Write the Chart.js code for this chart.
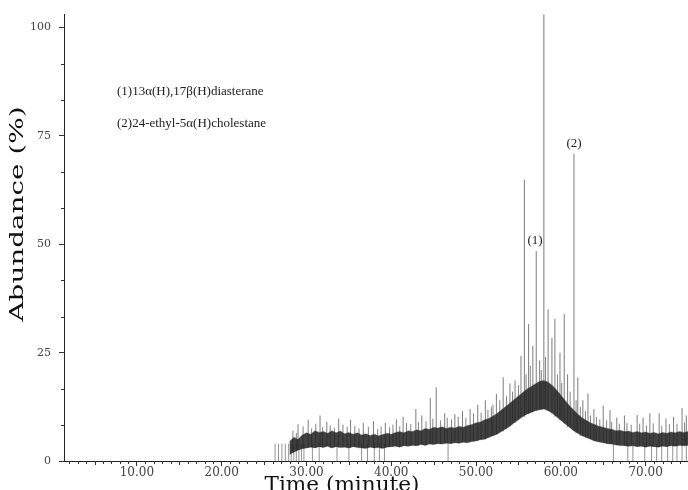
<!DOCTYPE html>
<html>
<head>
<meta charset="utf-8">
<script src="https://cdn.jsdelivr.net/npm/chart.js@4.4.1/dist/chart.umd.min.js"></script>
<style>
  html, body { margin: 0; padding: 0; background: #fff; }
  #wrap { width: 688px; height: 490px; }
</style>
</head>
<body>
<div id="wrap"><canvas id="chart" width="688" height="490"></canvas></div>
<script>
// axis ticks
const xTickValues = [10, 20, 30, 40, 50, 60, 70];
const yTickValues = [0, 25, 50, 75, 100];

// noisy baseline band (min / max of the trace)
const bandTime = [28.0, 28.5, 29.0, 29.5, 30.0, 30.5, 31.0, 31.5, 32.0, 32.5, 33.0, 33.5, 34.0, 34.5, 35.0, 35.5,
  36.0, 36.5, 37.0, 37.5, 38.0, 38.5, 39.0, 39.5, 40.0, 40.5, 41.0, 41.5, 42.0, 42.5, 43.0, 43.5,
  44.0, 44.5, 45.0, 45.5, 46.0, 46.5, 47.0, 47.5, 48.0, 48.5, 49.0, 49.5, 50.0, 50.5, 51.0, 51.5,
  52.0, 52.5, 53.0, 53.5, 54.0, 54.5, 55.0, 55.5, 56.0, 56.5, 57.0, 57.5, 58.0, 58.5, 59.0, 59.5,
  60.0, 60.5, 61.0, 61.5, 62.0, 62.5, 63.0, 63.5, 64.0, 64.5, 65.0, 65.5, 66.0, 66.5, 67.0, 67.5,
  68.0, 68.5, 69.0, 69.5, 70.0, 70.5, 71.0, 71.5, 72.0, 72.5, 73.0, 73.5, 74.0, 74.5, 75.0];
const bandLow = [1.5, 2.0, 2.5, 2.8, 3.0, 3.2, 3.0, 3.3, 3.1, 3.4, 3.0, 3.3, 3.1, 3.2, 3.0, 3.3,
  3.1, 3.0, 2.9, 3.2, 3.0, 3.1, 2.9, 3.2, 3.3, 3.4, 3.2, 3.5, 3.4, 3.6, 3.5, 3.8,
  3.6, 3.9, 3.8, 4.0, 3.9, 4.1, 4.0, 4.2, 4.1, 4.3, 4.2, 4.5, 4.6, 4.9, 5.0, 5.4,
  5.8, 6.2, 6.8, 7.4, 8.0, 8.8, 9.5, 10.2, 10.8, 11.2, 11.6, 11.8, 12.0, 11.6, 11.0, 10.2,
  9.4, 8.6, 7.8, 7.0, 6.4, 5.8, 5.4, 5.0, 4.6, 4.4, 4.2, 4.0, 3.9, 3.7, 3.6, 3.5,
  3.4, 3.5, 3.3, 3.4, 3.2, 3.4, 3.3, 3.2, 3.4, 3.3, 3.5, 3.4, 3.6, 3.5, 3.6];
const bandHigh = [4.5, 5.5, 5.0, 6.0, 6.5, 6.2, 7.0, 6.6, 6.8, 6.4, 7.0, 6.5, 6.9, 6.3, 6.6, 6.2,
  6.5, 6.0, 6.3, 5.9, 6.2, 5.8, 6.1, 6.4, 6.2, 6.6, 6.8, 6.5, 7.0, 6.8, 7.2, 7.0,
  7.5, 7.3, 7.8, 7.6, 7.9, 7.5, 7.8, 7.6, 8.0, 7.8, 8.2, 8.4, 8.8, 9.0, 9.5, 9.8,
  10.4, 11.0, 11.8, 12.6, 13.4, 14.2, 15.0, 15.8, 16.6, 17.2, 17.8, 18.4, 18.6, 18.2, 17.4, 16.4,
  15.2, 14.0, 12.8, 11.8, 10.8, 10.0, 9.4, 8.8, 8.4, 8.0, 7.8, 7.5, 7.3, 7.0, 7.1, 6.8,
  6.9, 6.6, 6.8, 6.5, 6.7, 6.4, 6.6, 6.3, 6.6, 6.4, 6.7, 6.5, 6.8, 6.6, 6.8];

// single peaks rising above the band
const spikeTime = [29.0, 30.2, 31.6, 32.4, 33.8, 35.2, 36.7, 37.9, 39.3, 40.6, 41.4, 42.9, 43.6, 44.6, 45.3,
  46.3, 47.5, 48.4, 49.3, 50.2, 51.1, 51.8, 52.4, 53.2, 54.0, 54.6, 55.3, 55.7, 56.2, 56.7, 57.1,
  57.5, 58.0, 58.5, 58.95, 59.3, 59.9, 60.4, 60.8, 61.55, 62.0, 62.6, 63.2, 63.9, 65.0, 65.8,
  66.6, 67.5, 69.0, 69.7, 70.5, 71.6, 72.4, 73.3, 74.3, 74.8];
const spikeTop = [8.5, 9.5, 10.5, 9.0, 9.8, 9.5, 8.8, 9.2, 8.8, 9.6, 10.2, 12.0, 10.5, 14.5, 17.0,
  11.0, 10.8, 11.5, 12.0, 13.0, 14.0, 12.5, 15.5, 19.3, 17.9, 18.6, 24.3, 64.9, 31.6, 26.6, 48.4,
  23.2, 105, 35.0, 28.4, 32.8, 25.0, 33.9, 20.0, 70.9, 19.3, 14.0, 15.6, 12.0, 12.8, 11.7,
  10.0, 10.5, 10.6, 10.0, 11.0, 11.0, 9.8, 10.2, 12.2, 10.5];

// small noise peaks just above the band
const noiseTime = [28.4, 28.8, 29.6, 30.6, 31.1, 31.9, 32.8, 33.3, 34.3, 34.8, 35.7, 36.2, 37.3, 38.4, 38.8,
  39.8, 40.2, 41.0, 41.8, 42.3, 43.2, 44.1, 44.9, 45.8, 46.6, 47.1, 47.9, 48.8, 49.7, 50.6, 51.4,
  52.0, 52.8, 53.6, 54.3, 55.0, 55.9, 56.4, 57.7, 58.2, 59.6, 60.1, 61.1, 61.8, 62.3, 62.9, 63.5,
  64.2, 64.6, 65.4, 66.0, 66.9, 67.8, 68.3, 69.3, 70.1, 70.9, 71.9, 72.8, 73.7, 74.6];
const noiseTop = [7.0, 6.5, 8.0, 7.5, 8.6, 7.8, 8.2, 7.6, 8.4, 7.9, 8.1, 7.5, 7.9, 7.4, 8.0,
  7.8, 8.4, 8.0, 8.8, 8.5, 9.0, 9.2, 9.8, 9.4, 10.0, 9.6, 10.2, 10.0, 11.0, 11.2, 11.8,
  13.0, 14.0, 15.0, 16.0, 17.5, 20.0, 22.0, 21.0, 24.0, 20.0, 18.0, 16.0, 14.0, 12.5, 11.5, 10.5,
  10.2, 9.6, 9.4, 9.0, 8.6, 8.8, 8.4, 8.6, 8.2, 8.7, 8.1, 8.5, 8.6, 8.9];

// thin lines dropping down to the axis
const dropTime = [26.3, 26.7, 27.1, 27.5, 27.9, 28.2, 28.5, 28.8, 29.1, 29.4, 29.7, 30.7, 31.5, 33.6, 35.0,
  36.5, 37.2, 38.0, 38.6, 39.2, 46.7, 66.2, 67.9, 68.5, 69.9, 70.7, 71.3, 71.9, 72.6, 73.2, 73.7, 74.3, 74.8];
const dropTop = 4;

// labels
const peakLabels = ["(1)", "(2)"];
const peakLabelTime = [56.95, 61.55];
const peakLabelValue = [50.8, 73.3];
const compoundNames = ["(1)13α(H),17β(H)diasterane", "(2)24-ethyl-5α(H)cholestane"];

function lowAt(t) {
  if (t < bandTime[0]) return 0;
  let best = 0;
  bandTime.forEach((bt, i) => {
    if (Math.abs(bt - t) < Math.abs(bandTime[best] - t)) best = i;
  });
  return bandLow[best];
}

function verticalLines(times, tops, base) {
  const pts = [];
  times.forEach((t, i) => {
    const b = base === undefined ? lowAt(t) : base;
    const top = Array.isArray(tops) ? tops[i] : tops;
    pts.push({ x: t, y: b }, { x: t, y: top }, { x: t, y: null });
  });
  return pts;
}

const serif = "'Liberation Serif', 'DejaVu Serif', serif";
const tickFont = "'DejaVu Serif', serif";

// extra minor ticks and text
const decorPlugin = {
  id: "decor",
  afterDraw(chart) {
    const ctx = chart.ctx;
    const xs = chart.scales.x;
    const ys = chart.scales.y;
    const area = chart.chartArea;
    ctx.save();
    ctx.strokeStyle = "#333";
    ctx.lineWidth = 1;
    ctx.beginPath();
    for (let t = 2; t <= 75; t++) {
      if (t % 10 === 0) continue;
      const px = Math.round(xs.getPixelForValue(t)) + 0.5;
      const len = t % 5 === 0 ? 4 : 3;
      ctx.moveTo(px, area.bottom);
      ctx.lineTo(px, area.bottom + len);
    }
    for (let k = 1; k <= 12; k++) {
      if (k % 3 === 0) continue;
      const py = Math.round(ys.getPixelForValue(k * 25 / 3)) + 0.5;
      ctx.moveTo(area.left, py);
      ctx.lineTo(area.left - 3, py);
    }
    ctx.stroke();

    // peak labels
    ctx.fillStyle = "#222";
    ctx.font = "13px " + serif;
    ctx.textAlign = "center";
    ctx.textBaseline = "middle";
    peakLabels.forEach((lab, i) => {
      ctx.fillText(lab, xs.getPixelForValue(peakLabelTime[i]), ys.getPixelForValue(peakLabelValue[i]));
    });

    // compound names
    ctx.textAlign = "left";
    ctx.textBaseline = "alphabetic";
    ctx.fillText(compoundNames[0], 117, 95);
    ctx.fillText(compoundNames[1], 117, 127);

    // axis titles, stretched to the widths seen
    ctx.fillStyle = "#111";
    ctx.font = "19px " + tickFont;
    let w = ctx.measureText("Abundance (%)").width;
    ctx.save();
    ctx.translate(18, 214);
    ctx.rotate(-Math.PI / 2);
    ctx.scale(215 / w, 1);
    ctx.textAlign = "center";
    ctx.textBaseline = "middle";
    ctx.fillText("Abundance (%)", 0, 0);
    ctx.restore();

    ctx.font = "20px " + tickFont;
    w = ctx.measureText("Time (minute)").width;
    ctx.save();
    ctx.translate(342, 476);
    ctx.scale(155 / w, 1);
    ctx.textAlign = "center";
    ctx.textBaseline = "top";
    ctx.fillText("Time (minute)", 0, 0);
    ctx.restore();
    ctx.restore();
  },
};

new Chart(document.getElementById("chart"), {
  type: "line",
  data: {
    datasets: [
      {
        data: verticalLines(dropTime, dropTop, 0),
        borderColor: "rgba(120, 120, 120, 0.8)",
        borderWidth: 1,
        pointRadius: 0,
        spanGaps: false,
        order: 5,
      },
      {
        data: verticalLines(spikeTime, spikeTop),
        borderColor: "rgba(110, 110, 110, 0.9)",
        borderWidth: 1,
        pointRadius: 0,
        spanGaps: false,
        order: 4,
      },
      {
        data: verticalLines(noiseTime, noiseTop),
        borderColor: "rgba(90, 90, 90, 0.75)",
        borderWidth: 1,
        pointRadius: 0,
        spanGaps: false,
        order: 3,
      },
      {
        data: bandTime.map((t, i) => ({ x: t, y: bandLow[i] })),
        borderColor: "rgba(110, 110, 110, 0.6)",
        borderWidth: 0.7,
        pointRadius: 0,
        order: 2,
      },
      {
        data: bandTime.map((t, i) => ({ x: t, y: bandHigh[i] })),
        borderColor: "rgba(90, 90, 90, 0.6)",
        borderWidth: 0.7,
        pointRadius: 0,
        fill: "-1",
        backgroundColor: "rgba(32, 32, 32, 0.85)",
        order: 1,
      },
    ],
  },
  options: {
    responsive: false,
    animation: false,
    events: [],
    layout: { padding: { top: 13, right: 0, bottom: 0, left: 0 } },
    plugins: {
      legend: { display: false },
      tooltip: { enabled: false },
    },
    elements: { line: { tension: 0 } },
    scales: {
      x: {
        type: "linear",
        min: 1.4,
        max: 75,
        afterBuildTicks: scale => {
          scale.ticks = xTickValues.map(v => ({ value: v }));
        },
        afterFit: scale => {
          scale.height = 29;
        },
        ticks: {
          callback: v => v.toFixed(2),
          font: { family: tickFont, size: 12 },
          color: "#444",
          padding: 0,
          maxRotation: 0,
          autoSkip: false,
        },
        grid: { drawOnChartArea: false, tickLength: 5, color: "#333" },
        border: { color: "#222", width: 1 },
      },
      y: {
        min: 0,
        max: 103,
        afterBuildTicks: scale => {
          scale.ticks = yTickValues.map(v => ({ value: v }));
        },
        afterFit: scale => {
          scale.width = 64;
        },
        ticks: {
          callback: v => String(v),
          font: { family: tickFont, size: 11 },
          color: "#444",
          padding: 8,
          autoSkip: false,
        },
        grid: { drawOnChartArea: false, tickLength: 5, color: "#333" },
        border: { color: "#222", width: 1 },
      },
    },
  },
  plugins: [decorPlugin],
});
</script>
</body>
</html>
